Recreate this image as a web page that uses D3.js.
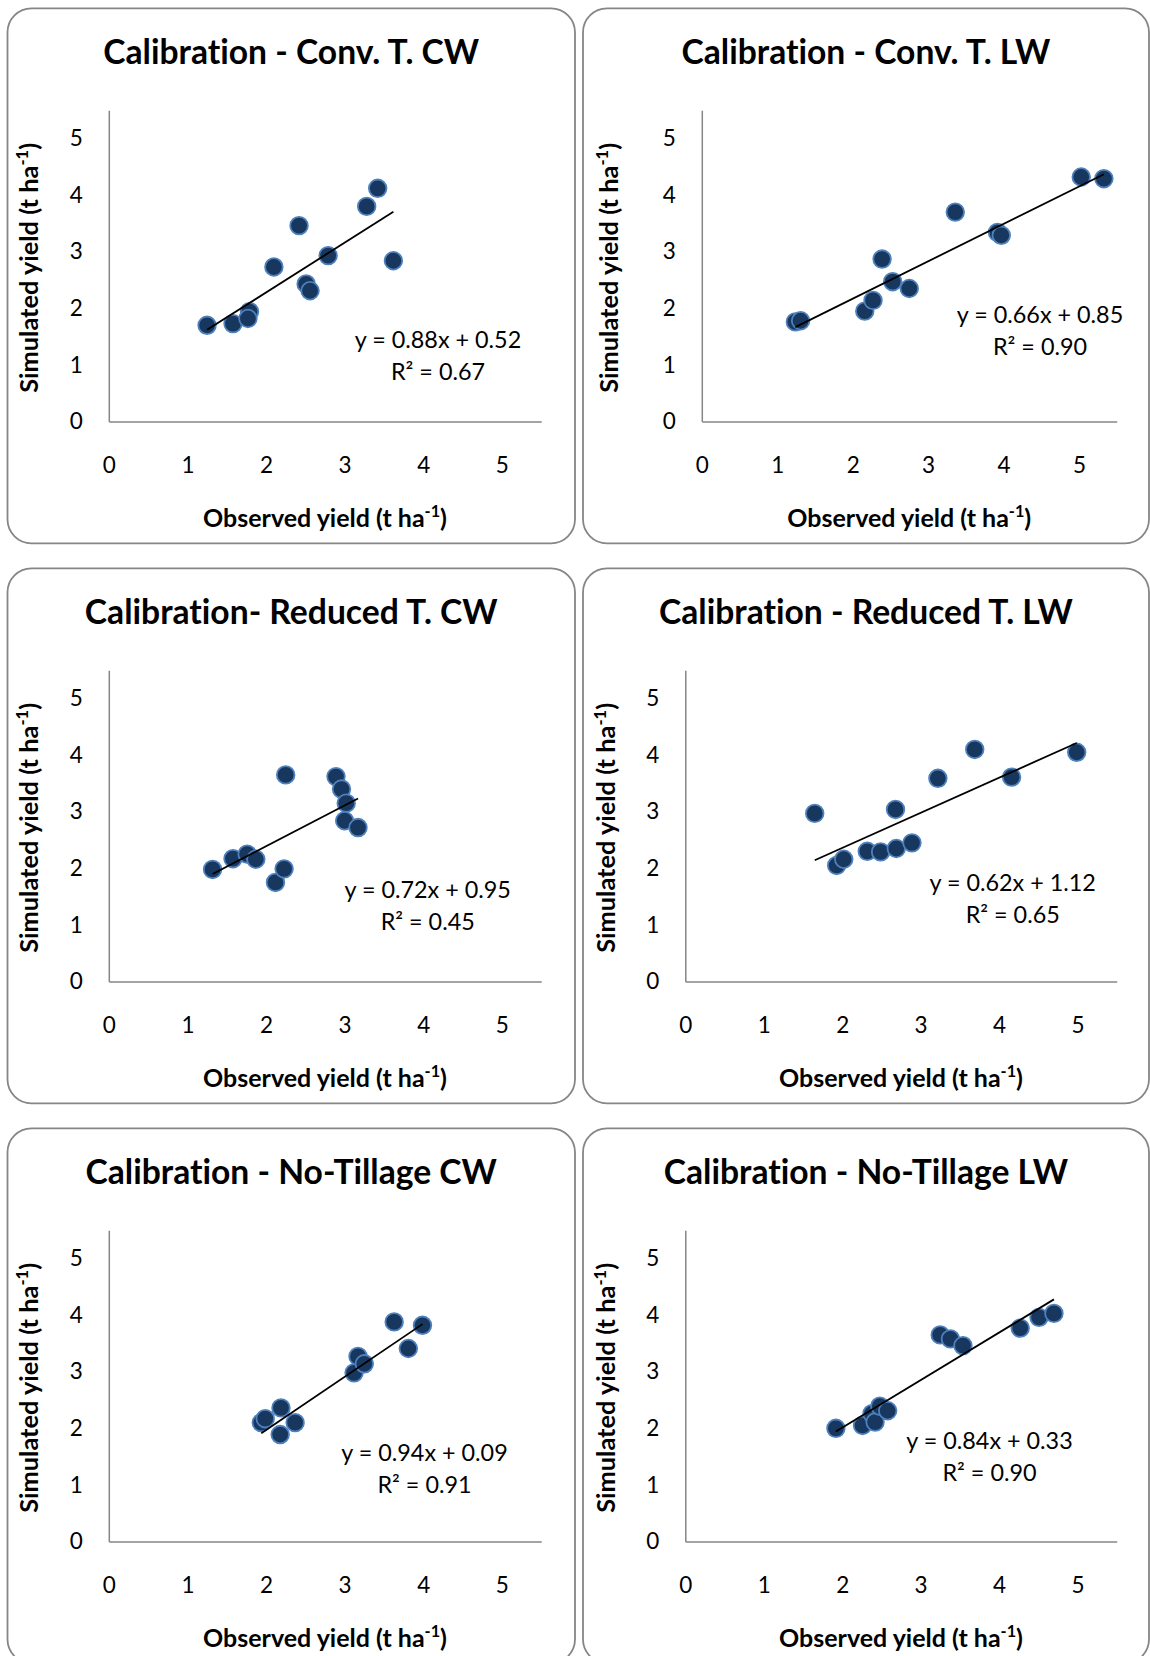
<!DOCTYPE html>
<html><head><meta charset="utf-8">
<script src="https://cdn.jsdelivr.net/npm/d3@7"></script>
<style>
html,body{margin:0;padding:0;background:#fff;}
svg{display:block;}
text{font-family:Lato,"Open Sans",sans-serif;fill:#000;font-variant-ligatures:none;font-feature-settings:"liga" 0,"clig" 0;}
</style></head><body>
<svg id="chart" width="1150" height="1656"></svg>
<script>
// ---------------- DATA ----------------
const titles = [
  "Calibration - Conv. T. CW",
  "Calibration - Conv. T. LW",
  "Calibration- Reduced T. CW",
  "Calibration - Reduced T. LW",
  "Calibration - No-Tillage CW",
  "Calibration - No-Tillage LW"
];
const obsConvCW = [1.25, 1.58, 1.79, 1.77, 2.10, 2.42, 2.51, 2.56, 2.79, 3.28, 3.42, 3.62];
const simConvCW = [1.70, 1.73, 1.94, 1.82, 2.73, 3.46, 2.43, 2.31, 2.93, 3.80, 4.12, 2.84];
const obsConvLW = [1.24, 1.31, 2.16, 2.27, 2.39, 2.53, 2.75, 3.36, 3.92, 3.97, 5.03, 5.33];
const simConvLW = [1.76, 1.78, 1.95, 2.14, 2.87, 2.47, 2.35, 3.70, 3.34, 3.29, 4.32, 4.29];
const obsRedCW  = [1.32, 1.58, 1.76, 1.87, 2.12, 2.23, 2.25, 2.89, 2.96, 3.02, 3.00, 3.17];
const simRedCW  = [1.98, 2.17, 2.25, 2.16, 1.75, 1.99, 3.65, 3.62, 3.40, 3.15, 2.84, 2.72];
const obsRedLW  = [1.65, 1.93, 2.02, 2.32, 2.49, 2.68, 2.69, 2.89, 3.22, 3.69, 4.16, 4.99];
const simRedLW  = [2.97, 2.05, 2.16, 2.30, 2.29, 3.04, 2.35, 2.45, 3.59, 4.10, 3.61, 4.05];
const obsNoTCW  = [1.94, 1.99, 2.19, 2.18, 2.37, 3.12, 3.17, 3.25, 3.63, 3.81, 3.99];
const simNoTCW  = [2.10, 2.17, 2.36, 1.89, 2.10, 2.98, 3.27, 3.14, 3.88, 3.41, 3.82];
const obsNoTLW  = [1.92, 2.26, 2.38, 2.42, 2.48, 2.58, 3.25, 3.38, 3.54, 4.27, 4.51, 4.70];
const simNoTLW  = [2.00, 2.05, 2.26, 2.11, 2.39, 2.31, 3.65, 3.58, 3.46, 3.77, 3.96, 4.03];
const slopes     = [0.88, 0.66, 0.72, 0.62, 0.94, 0.84];
const intercepts = [0.52, 0.85, 0.95, 1.12, 0.09, 0.33];
const r2Values   = ["0.67", "0.90", "0.45", "0.65", "0.91", "0.90"];
const tickValues = [0, 1, 2, 3, 4, 5];
const axisMax = 5.5;
const xAxisTitle = "Observed yield (t ha";
const yAxisTitle = "Simulated yield (t ha";
const unitSup = "-1";

const obsSets = [obsConvCW, obsConvLW, obsRedCW, obsRedLW, obsNoTCW, obsNoTLW];
const simSets = [simConvCW, simConvLW, simRedCW, simRedLW, simNoTCW, simNoTLW];

// ---------------- LAYOUT ----------------
const colX = [7.5, 583], rowY = [8.3, 568.3, 1128.3];
const panelW = [567.5, 566], panelH = 535, cornerR = 24;
const plotLeft = [101.3, 118.8, 101.3, 102.3, 101.3, 102.3];
const plotRight = 533.7, plotBottom = 413.2, plotTop = 101.9;
const eqPos = [[430.5,331.7],[457,306.4],[420.2,321.7],[429.7,314.5],[417,324.7],[406.5,312.1]];
const yTitleX = [30.5, 35, 30.5, 32.4, 30.5, 32.4];
const titleBase = 56, xTitleOffset = 105.5, lineGap = 32;
const target = {title: 376, xTitle: 244, yTitle: 250, eq: 166.5};

const svg = d3.select("#chart");

function addUnitText(sel, base) {
  sel.append("tspan").text(base);
  sel.append("tspan").attr("font-size", "65%").attr("dy", "-0.6em").text(unitSup);
  sel.append("tspan").attr("dy", "0.39em").text(")");
}
function fitSize(node, base, want) {
  const w = node.getComputedTextLength();
  return base * want / w;
}

let sizes = null;
const eqText = i => `y = ${slopes[i].toFixed(2)}x + ${intercepts[i].toFixed(2)}`;

(function measure(){
  const m = svg.append("g");
  const t1 = m.append("text").attr("font-size", 30).attr("font-weight", "bold").text(titles[0]);
  const t2 = m.append("text").attr("font-size", 20).attr("font-weight", "bold"); addUnitText(t2, xAxisTitle);
  const t3 = m.append("text").attr("font-size", 20).attr("font-weight", "bold"); addUnitText(t3, yAxisTitle);
  const t4 = m.append("text").attr("font-size", 20).text(eqText(0));
  sizes = {
    title: fitSize(t1.node(), 30, target.title),
    xTitle: fitSize(t2.node(), 20, target.xTitle),
    yTitle: fitSize(t3.node(), 20, target.yTitle),
    eq: fitSize(t4.node(), 20, target.eq)
  };
  m.remove();
})();

for (let i = 0; i < 6; i++) {
  const col = i % 2, row = Math.floor(i / 2);
  const g = svg.append("g").attr("transform", `translate(${colX[col]},${rowY[row]})`);
  const W = panelW[col];
  g.append("rect").attr("x", 0).attr("y", 0).attr("width", W).attr("height", panelH)
    .attr("rx", cornerR).attr("ry", cornerR)
    .attr("fill", "#fff").attr("stroke", "#868686").attr("stroke-width", 1.8);

  const x = d3.scaleLinear().domain([0, axisMax]).range([plotLeft[i], plotRight]);
  const y = d3.scaleLinear().domain([0, axisMax]).range([plotBottom, plotTop]);

  const gx = g.append("g").attr("transform", `translate(0,${plotBottom})`)
    .call(d3.axisBottom(x).tickValues(tickValues).tickSize(0).tickPadding(35.5).tickFormat(d3.format("d")));
  const gy = g.append("g").attr("transform", `translate(${plotLeft[i]},0)`)
    .call(d3.axisLeft(y).tickValues(tickValues).tickSize(0).tickPadding(26).tickFormat(d3.format("d")));
  [gx, gy].forEach(a => {
    a.attr("font-family", null).attr("font-size", null);
    a.select(".domain").attr("stroke", "#868686").attr("stroke-width", 1.5);
    a.selectAll(".tick text").attr("font-size", 22.5).attr("fill", "#000");
  });

  g.append("text").attr("x", W / 2).attr("y", titleBase).attr("text-anchor", "middle")
    .attr("font-weight", "bold").attr("font-size", sizes.title).text(titles[i]);

  const xt = g.append("text").attr("x", (plotLeft[i] + plotRight) / 2).attr("y", plotBottom + xTitleOffset)
    .attr("text-anchor", "middle").attr("font-weight", "bold").attr("font-size", sizes.xTitle);
  addUnitText(xt, xAxisTitle);
  const yt = g.append("text")
    .attr("transform", `translate(${yTitleX[i]},${(plotBottom + plotTop) / 2 + 2}) rotate(-90)`)
    .attr("text-anchor", "middle").attr("font-weight", "bold").attr("font-size", sizes.yTitle);
  addUnitText(yt, yAxisTitle);

  const pts = obsSets[i].map((o, k) => ({o, s: simSets[i][k]}));
  g.append("g").selectAll("circle").data(pts).join("circle")
    .attr("cx", d => x(d.o)).attr("cy", d => y(d.s)).attr("r", 8.8)
    .attr("fill", "#17375E").attr("stroke", "#4F81BD").attr("stroke-width", 1.8);

  const xmin = d3.min(obsSets[i]), xmax = d3.max(obsSets[i]);
  const f = v => slopes[i] * v + intercepts[i];
  g.append("line").attr("x1", x(xmin)).attr("y1", y(f(xmin))).attr("x2", x(xmax)).attr("y2", y(f(xmax)))
    .attr("stroke", "#000").attr("stroke-width", 1.8);

  const [ex, ey] = eqPos[i];
  const half = sizes.eq * 0.36;
  g.append("text").attr("x", ex).attr("y", ey + half).attr("text-anchor", "middle")
    .attr("font-size", sizes.eq).text(eqText(i));
  g.append("text").attr("x", ex).attr("y", ey + half + lineGap).attr("text-anchor", "middle")
    .attr("font-size", sizes.eq).text(`R² = ${r2Values[i]}`);
}
</script>
</body></html>
